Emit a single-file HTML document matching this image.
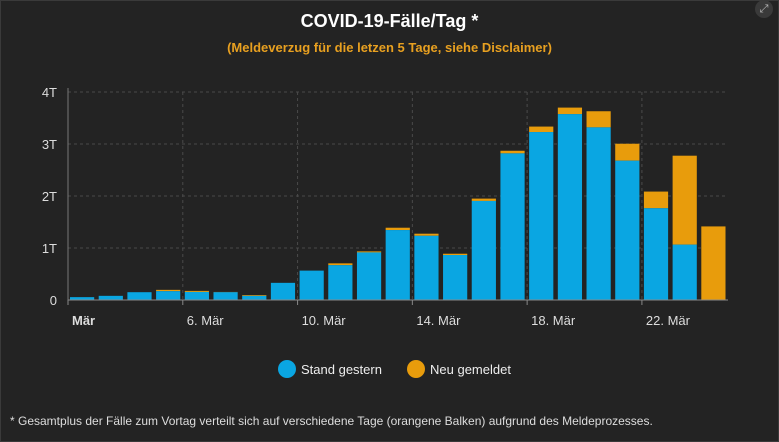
<!DOCTYPE html>
<html><head><meta charset="utf-8"><style>
body{margin:0;background:#232323;width:779px;height:442px;overflow:hidden;font-family:"Liberation Sans",sans-serif}
#frame{position:absolute;left:0;top:0;width:777px;height:440px;border:1px solid #3a3a3a;background:#232323}
.t{position:absolute;left:0;width:779px;text-align:center}
</style></head><body>
<div id="frame"></div>
<div class="t" style="top:11px;font-size:18px;font-weight:bold;color:#fff">COVID-19-Fälle/Tag *</div>
<div class="t" style="top:40px;font-size:13px;font-weight:bold;color:#e8a020">(Meldeverzug für die letzen 5 Tage, siehe Disclaimer)</div>
<div style="position:absolute;left:755px;top:0px;width:18px;height:18px;border-radius:9px;background:#3a3a3a;color:#bbb;font-size:11px;text-align:center;line-height:18px">⤢</div>
<svg id="c" width="779" height="442" style="position:absolute;left:0;top:0"></svg>
<div style="position:absolute;left:10px;top:414px;font-size:12px;color:#ddd">* Gesamtplus der Fälle zum Vortag verteilt sich auf verschiedene Tage (orangene Balken) aufgrund des Meldeprozesses.</div>
<script>
const days=["1","2","3","4","5","6","7","8","9","10","11","12","13","14","15","16","17","18","19","20","21","22","23"];
const standGestern=[55,80,150,170,155,150,80,330,565,670,915,1345,1235,865,1905,2820,3230,3575,3320,2680,1765,1065,0];
const neuGemeldet=[0,0,0,25,20,5,15,0,0,35,20,45,40,25,45,50,105,125,310,325,320,1710,1415];
const yTicks=[0,1000,2000,3000,4000];
const yTickLabels=["0","1T","2T","3T","4T"];
const xTickIdx=[0,4,8,12,16,20];
const xTickLabels=["Mär","6. Mär","10. Mär","14. Mär","18. Mär","22. Mär"];
const NS="http://www.w3.org/2000/svg";
const svg=document.getElementById('c');
const x0=68,x1=728,y0=300,yTop=92,yMax=4000;
const step=(x1-x0)/days.length;
const X=i=>x0+i*step;
const Y=v=>y0-(v/yMax)*(y0-yTop);
function mk(t,a){const e=document.createElementNS(NS,t);for(const k in a)e.setAttribute(k,a[k]);svg.appendChild(e);return e;}
yTicks.forEach((v,i)=>{
 if(v>0){const g=mk('line',{x1:x0,x2:x1,y1:Y(v),y2:Y(v),stroke:'#4a4a4a','stroke-dasharray':'3,3'});
 
 }
 const t=mk('text',{x:57,y:Y(v)+5,'text-anchor':'end',fill:'#ddd','font-size':'13'});t.textContent=yTickLabels[i];
 
 
});
xTickIdx.forEach((d,i)=>{
 if(i>0){const g=mk('line',{x1:X(d),x2:X(d),y1:yTop,y2:y0,stroke:'#4a4a4a','stroke-dasharray':'3,3'});
 
 }
 const tk=mk('line',{x1:X(d),x2:X(d),y1:y0,y2:y0+5,stroke:'#888'});
 
 
 const t=mk('text',{x:X(d)+4,y:y0+25,fill:'#ddd','font-size':'13','font-weight':i==0?'bold':'normal'});t.textContent=xTickLabels[i];
 
 
});
days.forEach((d,i)=>{
 const bx=X(i)+2,bw=step-4.5;
 const tot=standGestern[i]+neuGemeldet[i];
 if(neuGemeldet[i]>0){const r=mk('rect',{x:bx,y:Y(tot),width:bw,height:Y(standGestern[i])-Y(tot),fill:'#e89c0c'});
 
 }
 if(standGestern[i]>0){const r=mk('rect',{x:bx,y:Y(standGestern[i]),width:bw,height:y0-Y(standGestern[i]),fill:'#0aa6e2'});
 
 }
});
const ax=mk('line',{x1:x0,x2:x0,y1:yTop-4,y2:y0,stroke:'#777'});


const axx=mk('line',{x1:x0,x2:x1,y1:y0,y2:y0,stroke:'#888'});


[[287,'#0aa6e2','Stand gestern'],[416,'#e89c0c','Neu gemeldet']].forEach(l=>{
 const c=mk('circle',{cx:l[0],cy:369,r:9,fill:l[1]});
 
 
 const t=mk('text',{x:l[0]+14,y:374,fill:'#eee','font-size':'13'});t.textContent=l[2];
 
 
});
</script>
</body></html>
